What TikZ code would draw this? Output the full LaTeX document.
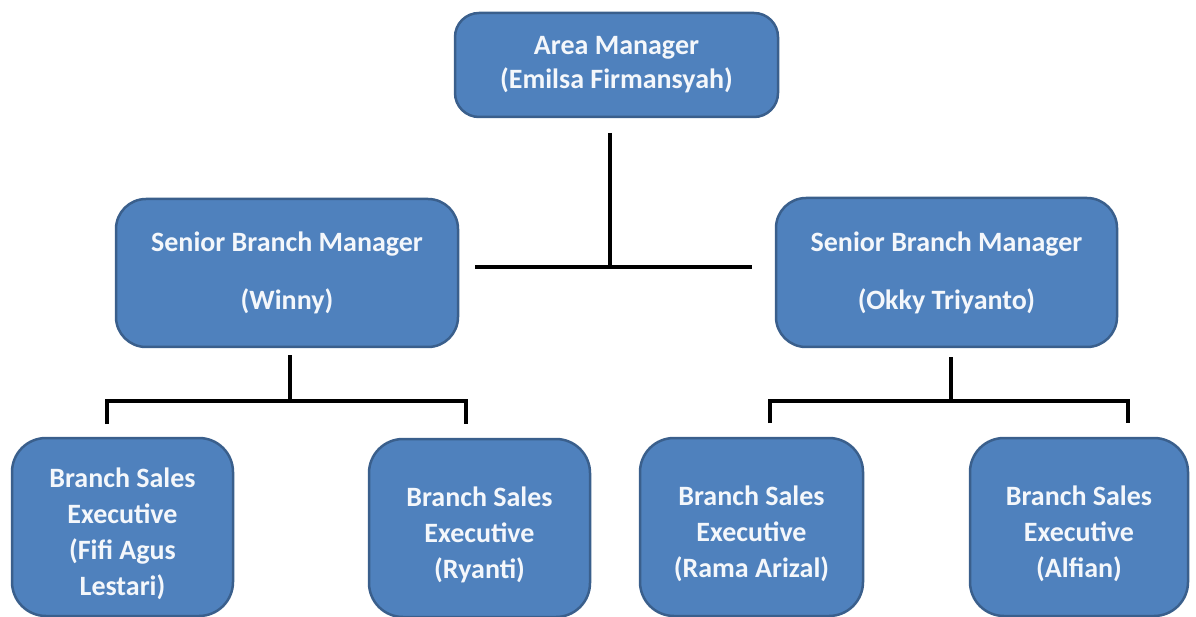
\documentclass[tikz,border=0pt]{standalone}
\usepackage{fontspec}
\setmainfont{Carlito}
\definecolor{boxfill}{HTML}{4F81BD}
\definecolor{boxline}{HTML}{3A5F8C}
\definecolor{boxtext}{HTML}{F4F7FB}
\newcommand{\lowstrut}{\rule{0pt}{33pt}}
\begin{document}
\begin{tikzpicture}[x=1pt,y=-1pt,
  orgbox/.style={draw=boxline, fill=boxfill, line width=2.5pt, text=boxtext,
    font=\bfseries\fontsize{28}{34}\selectfont, align=center, inner sep=0pt},
  bsebox/.style={orgbox, rounded corners=34pt, minimum height=178pt,
    font=\bfseries\fontsize{28}{36}\selectfont},
  conn/.style={line width=4pt, black}]
\useasboundingbox (0,0) rectangle (1196,617);
\clip (0,0) rectangle (1196,617);
% boxes
\node[orgbox, rounded corners=24pt, minimum width=323pt, minimum height=104pt] (am) at (616.5,65)
  {Area Manager\\(Emilsa Firmansyah)};
\node[orgbox, rounded corners=30pt, minimum width=342pt, minimum height=148pt] (sbmL) at (287,273)
  {Senior Branch Manager\\[24pt](Winny)};
\node[orgbox, rounded corners=30pt, minimum width=341pt, minimum height=149pt] (sbmR) at (946.5,272.5)
  {Senior Branch Manager\\[24pt](Okky Triyanto)};
\node[bsebox, minimum width=221pt] (bse1) at (122.5,527)
  {\lowstrut Branch Sales\\Executive\\(Fifi Agus\\Lestari)};
\node[bsebox, minimum width=221pt] (bse2) at (479.5,528)
  {\lowstrut Branch Sales\\Executive\\(Ryanti)};
\node[bsebox, minimum width=223pt] (bse3) at (751.5,527)
  {\lowstrut Branch Sales\\Executive\\(Rama Arizal)};
\node[bsebox, minimum width=218pt] (bse4) at (1079,527)
  {\lowstrut Branch Sales\\Executive\\(Alfian)};
% connector coordinates
\coordinate (amtop) at (610,133);
\coordinate (tmid) at (610,267);
\coordinate (tl) at (475,267);
\coordinate (tr) at (752,267);
\coordinate (ls) at (290,355);
\coordinate (lm) at (290,401);
\coordinate (ll) at (107,401);
\coordinate (lr) at (466,401);
\coordinate (lld) at (107,424);
\coordinate (lrd) at (466,424);
\coordinate (rs) at (951,357);
\coordinate (rm) at (951,401);
\coordinate (rl) at (770,401);
\coordinate (rr) at (1128,401);
\coordinate (rld) at (770,423);
\coordinate (rrd) at (1128,423);
% connectors
\draw[conn] (amtop) -- (tmid);
\draw[conn] (tl) -- (tr);
\draw[conn] (ls) -- (lm);
\draw[conn] (lld) -- (ll) -- (lr) -- (lrd);
\draw[conn] (rs) -- (rm);
\draw[conn] (rld) -- (rl) -- (rr) -- (rrd);
\end{tikzpicture}
\end{document}
